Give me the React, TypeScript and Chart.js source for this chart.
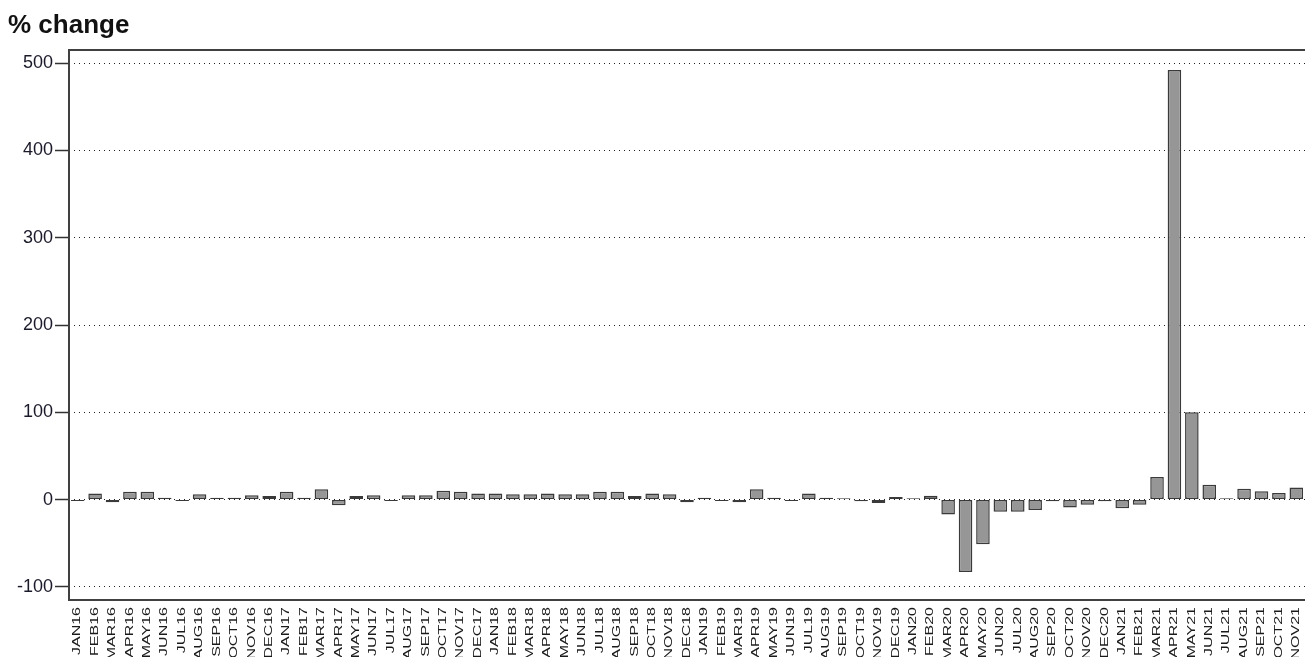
import React, { useEffect, useRef } from "react";
import { Chart, registerables } from "chart.js";

Chart.register(...registerables);

const months: string[] = [
  "JAN16","FEB16","MAR16","APR16","MAY16","JUN16","JUL16","AUG16","SEP16","OCT16","NOV16","DEC16",
  "JAN17","FEB17","MAR17","APR17","MAY17","JUN17","JUL17","AUG17","SEP17","OCT17","NOV17","DEC17",
  "JAN18","FEB18","MAR18","APR18","MAY18","JUN18","JUL18","AUG18","SEP18","OCT18","NOV18","DEC18",
  "JAN19","FEB19","MAR19","APR19","MAY19","JUN19","JUL19","AUG19","SEP19","OCT19","NOV19","DEC19",
  "JAN20","FEB20","MAR20","APR20","MAY20","JUN20","JUL20","AUG20","SEP20","OCT20","NOV20","DEC20",
  "JAN21","FEB21","MAR21","APR21","MAY21","JUN21","JUL21","AUG21","SEP21","OCT21","NOV21",
];

const pctChange: number[] = [
  -1.5, 7, -3, 9, 9, 2, -1.5, 6, 2, 2, 5, 4,
  9, 2, 12, -6.5, 4, 5, -1.5, 5, 5, 10, 9, 7,
  7, 6, 6, 7, 6, 6, 9, 9, 4, 7, 6, -3,
  2, -1.5, -3, 12, 2, -1.5, 7, 2, 1.5, -2, -4, 3,
  1.5, 4.5, -17, -83, -51, -14, -14, -12, -2, -9, -6, -2,
  -10, -6, 26, 492, 100, 17, 1.5, 12.5, 9.5, 7.5, 14,
];

const yTicks: number[] = [-100, 0, 100, 200, 300, 400, 500];
const titleText = "% change";

const FONT = "'Liberation Sans', Arial, sans-serif";

const framePlugin = {
  id: "frameAndTitle",
  afterDraw(chart: any) {
    const { ctx, chartArea } = chart;
    const xScale = chart.scales.x;
    ctx.save();
    ctx.strokeStyle = "#404040";
    ctx.lineWidth = 2;
    const l = Math.round(chartArea.left);
    const t = Math.round(chartArea.top);
    const r = Math.round(chartArea.right);
    const b = Math.round(chartArea.bottom);
    ctx.beginPath();
    ctx.moveTo(r, t);
    ctx.lineTo(l, t);
    ctx.lineTo(l, b);
    ctx.lineTo(r, b);
    ctx.stroke();
    ctx.fillStyle = "#111111";
    ctx.font = `bold 26px ${FONT}`;
    ctx.textBaseline = "alphabetic";
    ctx.textAlign = "left";
    ctx.fillText(titleText, 8, 33);
    ctx.font = `10px ${FONT}`;
    ctx.fillStyle = "#1a1a1a";
    ctx.textAlign = "right";
    ctx.textBaseline = "middle";
    const labels: string[] = chart.data.labels;
    labels.forEach((lab: string, i: number) => {
      const x = xScale.getPixelForValue(i);
      ctx.save();
      ctx.translate(x, b + 7);
      ctx.rotate(-Math.PI / 2);
      ctx.scale(1.6, 1);
      ctx.fillText(lab, 0, 0);
      ctx.restore();
    });
    ctx.restore();
  },
};

export default function App() {
  const canvasRef = useRef<HTMLCanvasElement | null>(null);

  useEffect(() => {
    if (!canvasRef.current) return;
    const chart = new Chart(canvasRef.current, {
      type: "bar",
      data: {
        labels: months,
        datasets: [
          {
            data: pctChange,
            backgroundColor: "#969696",
            borderColor: "#3a3a3a",
            borderWidth: 1.5,
            barPercentage: 0.78,
            categoryPercentage: 1,
            borderSkipped: false,
          },
        ],
      },
      options: {
        responsive: false,
        animation: false,
        layout: { padding: { top: 50, right: 0, left: 0, bottom: 0 } },
        plugins: {
          legend: { display: false },
          tooltip: { enabled: false },
          title: { display: false },
        },
        scales: {
          x: {
            offset: true,
            grid: { display: false, drawTicks: false },
            border: { display: false },
            ticks: { display: false },
            afterFit(scale: any) {
              scale.height = 57;
              scale.paddingLeft = 0;
              scale.paddingRight = 0;
            },
          },
          y: {
            min: -115,
            max: 515,
            afterBuildTicks(scale: any) {
              scale.ticks = yTicks.map((v) => ({ value: v }));
            },
            grid: {
              color: "#222222",
              lineWidth: 1,
              tickLength: 14,
              tickColor: "#333333",
              tickBorderDash: [],
              tickWidth: 1.5,
            },
            border: { display: false, dash: [1, 4] },
            ticks: {
              padding: 2,
              color: "#1a1a2a",
              font: { family: FONT, size: 18 },
            },
            afterFit(scale: any) {
              scale.width = 69;
            },
          },
        },
      },
      plugins: [framePlugin],
    });
    return () => chart.destroy();
  }, []);

  return (
    <div style={{ position: "absolute", left: 0, top: 0, width: 1305, height: 657, background: "#fff" }}>
      <canvas ref={canvasRef} width={1305} height={657} />
    </div>
  );
}
